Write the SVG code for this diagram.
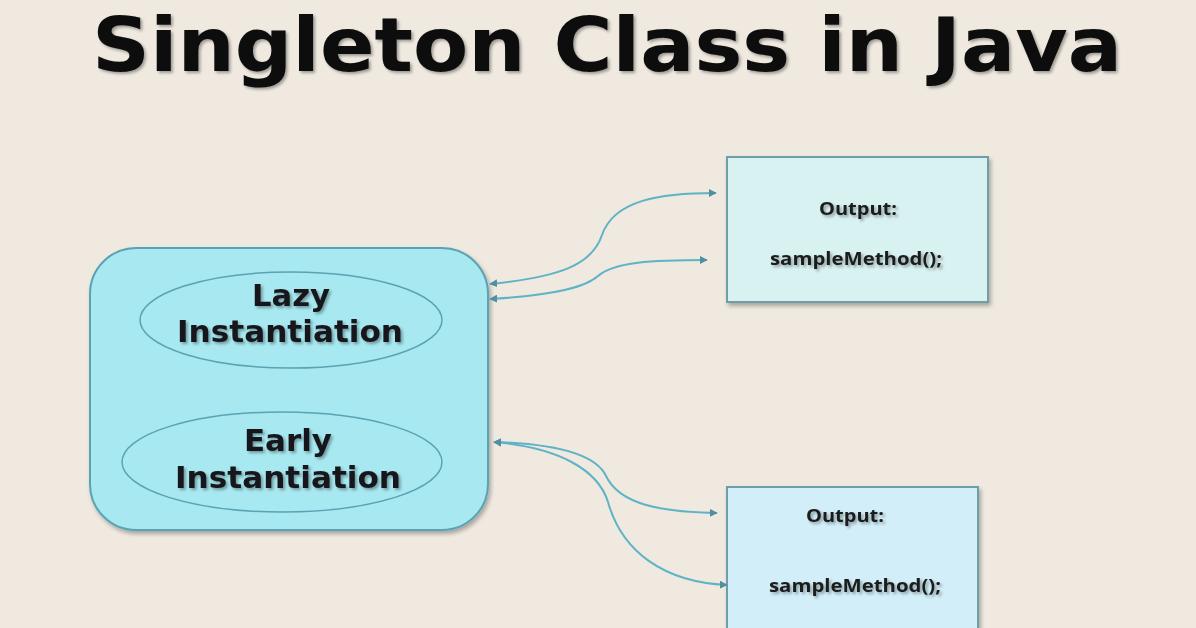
<svg xmlns="http://www.w3.org/2000/svg" width="1196" height="628" viewBox="0 0 1196 628">
<style>
.title{font-family:"DejaVu Sans",Verdana,sans-serif;font-weight:bold;font-size:74px;fill:#0a0a0a}
.lbl{font-family:"DejaVu Sans",Verdana,sans-serif;font-weight:bold;font-size:30px;fill:#14181a;text-anchor:middle}
.out{font-family:"Open Sans",Lato,sans-serif;font-weight:bold;font-size:17px;fill:#1a1d1e;text-anchor:middle}
.conn{fill:none;stroke:#5fb3c6;stroke-width:2}
.sh{filter:url(#ts)}
</style>
<defs>
<filter id="ts" x="-10%" y="-20%" width="120%" height="160%">
<feGaussianBlur in="SourceAlpha" stdDeviation="1.5"/>
<feOffset dx="2" dy="2" result="b"/>
<feComponentTransfer><feFuncA type="linear" slope="0.35"/></feComponentTransfer>
<feMerge><feMergeNode/><feMergeNode in="SourceGraphic"/></feMerge>
</filter>
<filter id="bs" x="-5%" y="-5%" width="115%" height="115%">
<feGaussianBlur in="SourceAlpha" stdDeviation="2"/>
<feOffset dx="2" dy="3"/>
<feComponentTransfer><feFuncA type="linear" slope="0.3"/></feComponentTransfer>
<feMerge><feMergeNode/><feMergeNode in="SourceGraphic"/></feMerge>
</filter>
<marker id="ah" viewBox="0 0 10 10" refX="9" refY="5" markerWidth="4" markerHeight="4" orient="auto-start-reverse">
<path d="M0,0 L10,5 L0,10 z" fill="#4f8fa0"/>
</marker>
</defs>
<rect width="1196" height="628" fill="#efe9e0"/>
<g id="title">
<text class="title sh" x="92" y="71" textLength="1030" lengthAdjust="spacingAndGlyphs">Singleton Class in Java</text>
</g>
<g id="singleton">
<rect x="90" y="248" width="398" height="282" rx="46" ry="46" fill="#a8e8f0" stroke="#5aa3b2" stroke-width="2" filter="url(#bs)"/>
</g>
<g id="lazy">
<ellipse cx="291" cy="320" rx="151" ry="48" fill="#a8e8f0" stroke="#5aa3b2" stroke-width="1.5"/>
<text class="lbl sh" x="291" y="306" textLength="78" lengthAdjust="spacingAndGlyphs">Lazy</text>
<text class="lbl sh" x="290" y="342" textLength="226" lengthAdjust="spacingAndGlyphs">Instantiation</text>
</g>
<g id="early">
<ellipse cx="282" cy="462" rx="160" ry="50" fill="#a8e8f0" stroke="#5aa3b2" stroke-width="1.5"/>
<text class="lbl sh" x="288" y="451" textLength="88" lengthAdjust="spacingAndGlyphs">Early</text>
<text class="lbl sh" x="288" y="488" textLength="226" lengthAdjust="spacingAndGlyphs">Instantiation</text>
</g>
<g id="output1">
<rect x="727" y="157" width="261" height="145" fill="#d8f1f1" stroke="#6e9ea8" stroke-width="2" filter="url(#bs)"/>
<text class="out sh" x="858" y="215" textLength="78" lengthAdjust="spacingAndGlyphs">Output:</text>
<text class="out sh" x="856" y="265" textLength="172" lengthAdjust="spacingAndGlyphs">sampleMethod();</text>
</g>
<g id="output2">
<rect x="727" y="487" width="251" height="150" fill="#d2eef8" stroke="#6e9ea8" stroke-width="2" filter="url(#bs)"/>
<text class="out sh" x="845" y="522" textLength="78" lengthAdjust="spacingAndGlyphs">Output:</text>
<text class="out sh" x="855" y="592" textLength="172" lengthAdjust="spacingAndGlyphs">sampleMethod();</text>
</g>
<g id="connectors">
<path class="conn" marker-start="url(#ah)" marker-end="url(#ah)" d="M490,284 C560,277 592,265 602,235 C614,200 660,193 716,193"/>
<path class="conn" marker-start="url(#ah)" marker-end="url(#ah)" d="M490,299 C542,296 582,290 598,276 C614,262 652,260 707,260"/>
<path class="conn" marker-start="url(#ah)" marker-end="url(#ah)" d="M494,442 C560,444 596,455 606,476 C620,505 662,512 717,513"/>
<path class="conn" marker-start="url(#ah)" marker-end="url(#ah)" d="M494,442 C560,448 598,470 608,502 C622,552 664,582 727,585"/>
</g>
</svg>
